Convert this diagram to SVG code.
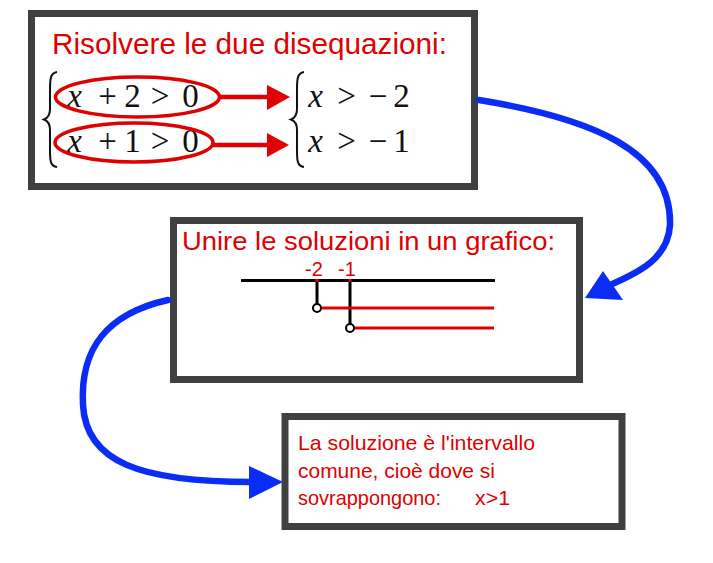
<svg xmlns="http://www.w3.org/2000/svg" width="713" height="563" viewBox="0 0 713 563">
<style>
.box{fill:#fff;stroke:#404040;stroke-width:7}
.title{fill:#e00000;font-family:"Liberation Sans",Arial,sans-serif}
.m{font-family:"Liberation Serif","DejaVu Serif",serif;font-size:33px;fill:#111;text-anchor:middle}
.mi{font-style:italic}
.brace{fill:none;stroke:#111;stroke-width:2}
.ell{fill:none;stroke:#e00000;stroke-width:3.5}
.rl{stroke:#e00000;stroke-width:4.5;fill:none}
.blue{fill:none;stroke:#0a2cf5;stroke-width:6.5;stroke-linecap:round}
.num{fill:#e00000;font-family:"Liberation Sans",Arial,sans-serif;font-size:20px;text-anchor:middle}
</style>
<g id="node1">
<rect class="box" x="31.5" y="13.5" width="443" height="173"/>
<text class="title" x="52" y="54" font-size="29" textLength="395" lengthAdjust="spacingAndGlyphs">Risolvere le due disequazioni:</text>
<path class="brace" d="M57,72 C50,73 50,80 50,90 L50,109 C50,115 48,118 44,119.5 C48,121 50,124 50,130 L50,150 C50,160 50,166 57,167"/>
<path class="brace" d="M304,72 C297,73 297,80 297,90 L297,109 C297,115 295,118 291,119.5 C295,121 297,124 297,130 L297,150 C297,160 297,166 304,167"/>
<text class="m" y="107"><tspan class="mi" x="74.5">x</tspan><tspan x="107.5">+</tspan><tspan x="132.5">2</tspan><tspan x="160">&gt;</tspan><tspan x="190.5">0</tspan></text>
<text class="m" y="152"><tspan class="mi" x="74.5">x</tspan><tspan x="107.5">+</tspan><tspan x="132.5">1</tspan><tspan x="160">&gt;</tspan><tspan x="190.5">0</tspan></text>
<text class="m" y="107"><tspan class="mi" x="315.5">x</tspan><tspan x="346.5">&gt;</tspan><tspan x="378">−</tspan><tspan x="401.5">2</tspan></text>
<text class="m" y="152"><tspan class="mi" x="315.5">x</tspan><tspan x="346.5">&gt;</tspan><tspan x="378">−</tspan><tspan x="401.5">1</tspan></text>
<ellipse class="ell" cx="137.5" cy="97" rx="82" ry="20"/>
<ellipse class="ell" cx="134" cy="142.5" rx="79" ry="19.5"/>
<line class="rl" x1="220" y1="97" x2="268" y2="97"/>
<polygon points="267,85 290,97 267,110" fill="#e00000"/>
<line class="rl" x1="213" y1="145" x2="268" y2="145"/>
<polygon points="267,133 289,145 267,157" fill="#e00000"/>
</g>
<g id="node2">
<rect class="box" x="173.5" y="220.5" width="406" height="159"/>
<text class="title" x="182" y="250" font-size="26" textLength="373" lengthAdjust="spacingAndGlyphs">Unire le soluzioni in un grafico:</text>
<line x1="241" y1="280.5" x2="495" y2="280.5" stroke="#000" stroke-width="3"/>
<line x1="317" y1="280" x2="317" y2="304" stroke="#000" stroke-width="3"/>
<line x1="350" y1="280" x2="350" y2="324" stroke="#000" stroke-width="3"/>
<line x1="321" y1="308" x2="494" y2="308" stroke="#e00000" stroke-width="3"/>
<line x1="354" y1="328" x2="494" y2="328" stroke="#e00000" stroke-width="3"/>
<circle cx="317" cy="308" r="4" fill="#fff" stroke="#000" stroke-width="2"/>
<circle cx="350" cy="328" r="4" fill="#fff" stroke="#000" stroke-width="2"/>
<circle cx="317" cy="280.5" r="1.8" fill="#e00000"/>
<circle cx="350" cy="280.5" r="1.8" fill="#e00000"/>
<text class="num" x="314" y="276">-2</text>
<text class="num" x="347" y="276">-1</text>
</g>
<g id="node3">
<rect class="box" x="285" y="416.5" width="337" height="110"/>
<text class="title" x="298" y="450" font-size="21" textLength="237" lengthAdjust="spacingAndGlyphs">La soluzione è l'intervallo</text>
<text class="title" x="298" y="478" font-size="21" textLength="197" lengthAdjust="spacingAndGlyphs">comune, cioè dove si</text>
<text class="title" x="298" y="505" font-size="21" textLength="143" lengthAdjust="spacingAndGlyphs">sovrappongono:</text>
<text class="title" x="475" y="505" font-size="21" textLength="35" lengthAdjust="spacingAndGlyphs">x&gt;1</text>
</g>
<g id="connectors">
<path class="blue" d="M479,100 C590,118 672,150 670,225 C668,258 640,272 610,285"/>
<polygon points="585,298 603,271 623,300" fill="#0a2cf5"/>
<path class="blue" d="M168,300 C105,314 80,350 83,405 C86,462 140,482 252,482"/>
<polygon points="283,482 249,466 249,499" fill="#0a2cf5"/>
</g>
</svg>
